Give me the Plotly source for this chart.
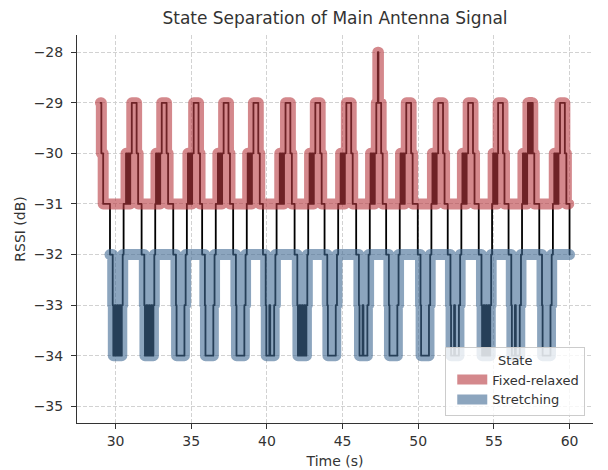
import plotly.graph_objects as go
import pandas as pd

# ---- data: RSSI samples (s, dB), split by labelled state ----
relaxed_time = [
    29.00, 29.06, 29.18,
    30.53, 30.69, 30.77, 30.83, 30.91, 30.97, 31.07, 31.39, 31.49,
    32.62, 32.67, 32.75, 32.81, 32.89, 32.95, 33.05, 33.37, 33.47,
    34.71, 34.78, 34.86, 34.92, 35.00, 35.06, 35.16, 35.48, 35.58,
    36.62, 36.76, 36.84, 36.90, 36.98, 37.04, 37.14, 37.46, 37.56,
    38.67, 38.73, 38.81, 38.87, 38.95, 39.01, 39.11, 39.43, 39.53,
    40.64, 40.85, 40.93, 40.99, 41.07, 41.13, 41.23, 41.55, 41.65,
    42.73, 42.82, 42.90, 42.96, 43.04, 43.10, 43.20, 43.52, 43.62,
    44.71, 44.87, 44.95, 45.01, 45.09, 45.15, 45.25, 45.57, 45.67,
    46.80, 46.85, 46.93, 46.99, 47.07, 47.13, 47.23, 47.33, 47.37, 47.55, 47.65,
    48.78, 48.83, 48.91, 48.97, 49.05, 49.11, 49.21, 49.53, 49.63,
    50.87, 50.94, 51.02, 51.08, 51.16, 51.22, 51.32, 51.64, 51.74,
    52.85, 52.92, 53.00, 53.06, 53.14, 53.20, 53.30, 53.62, 53.72,
    54.88, 54.95, 55.03, 55.09, 55.17, 55.23, 55.28, 55.60, 55.70,
    56.86, 56.92, 57.00, 57.06, 57.14, 57.20, 57.25, 57.33, 57.38, 57.46, 57.51, 57.57, 57.67,
    58.90, 58.99, 59.07, 59.13, 59.21, 59.27, 59.37, 59.69, 59.79, 59.95,
]
relaxed_rssi = [
    -29, -30, -31,
    -31, -30, -31, -30, -31, -30, -29, -30, -31,
    -31, -30, -31, -30, -31, -30, -29, -30, -31,
    -31, -30, -31, -30, -31, -30, -29, -30, -31,
    -31, -30, -31, -30, -31, -30, -29, -30, -31,
    -31, -30, -31, -30, -31, -30, -29, -30, -31,
    -31, -30, -31, -30, -31, -30, -29, -30, -31,
    -31, -30, -31, -30, -31, -30, -29, -30, -31,
    -31, -30, -31, -30, -31, -30, -29, -30, -31,
    -31, -30, -31, -30, -31, -30, -29, -28, -29, -30, -31,
    -31, -30, -31, -30, -31, -30, -29, -30, -31,
    -31, -30, -31, -30, -31, -30, -29, -30, -31,
    -31, -30, -31, -30, -31, -30, -29, -30, -31,
    -31, -30, -31, -30, -31, -30, -29, -30, -31,
    -31, -30, -31, -30, -31, -30, -29, -30, -29, -30, -29, -30, -31,
    -31, -30, -31, -30, -31, -30, -29, -30, -31, -31,
]
stretch_time = [
    29.63, 29.81, 29.85, 29.95, 30.01, 30.11, 30.17, 30.27, 30.33, 30.41, 30.47,
    31.72, 31.90, 31.94, 32.04, 32.10, 32.20, 32.26, 32.36, 32.42, 32.50, 32.56,
    33.81, 33.99, 34.03, 34.55, 34.63,
    35.72, 35.90, 35.94, 36.46, 36.54,
    37.77, 37.95, 37.99, 38.51, 38.59,
    39.74, 39.92, 39.96, 40.16, 40.22, 40.48, 40.56,
    41.83, 42.01, 42.05, 42.15, 42.21, 42.31, 42.37, 42.47, 42.53, 42.61, 42.67,
    43.81, 43.99, 44.03, 44.55, 44.63,
    45.90, 46.08, 46.12, 46.32, 46.38, 46.64, 46.72,
    47.88, 48.06, 48.10, 48.62, 48.70,
    49.97, 50.15, 50.19, 50.71, 50.79,
    51.95, 52.13, 52.17, 52.37, 52.43, 52.69, 52.77,
    54.00, 54.18, 54.22, 54.32, 54.38, 54.48, 54.54, 54.64, 54.70, 54.76, 54.82,
    55.97, 56.15, 56.19, 56.39, 56.45, 56.71, 56.79,
    58.00, 58.18, 58.22, 58.74, 58.82,
    60.00,
]
stretch_rssi = [
    -32, -33, -34, -33, -34, -33, -34, -33, -34, -33, -32,
    -32, -33, -34, -33, -34, -33, -34, -33, -34, -33, -32,
    -32, -33, -34, -33, -32,
    -32, -33, -34, -33, -32,
    -32, -33, -34, -33, -32,
    -32, -33, -34, -33, -34, -33, -32,
    -32, -33, -34, -33, -34, -33, -34, -33, -34, -33, -32,
    -32, -33, -34, -33, -32,
    -32, -33, -34, -33, -34, -33, -32,
    -32, -33, -34, -33, -32,
    -32, -33, -34, -33, -32,
    -32, -33, -34, -33, -34, -33, -32,
    -32, -33, -34, -33, -34, -33, -34, -33, -34, -33, -32,
    -32, -33, -34, -33, -34, -33, -32,
    -32, -33, -34, -33, -32,
    -32,
]
state_names = ["Fixed-relaxed", "Stretching"]
x_tick_values = [30, 35, 40, 45, 50, 55, 60]
y_tick_values = [-35, -34, -33, -32, -31, -30, -29, -28]
y_tick_labels = ["−35", "−34", "−33", "−32", "−31", "−30", "−29", "−28"]

df = pd.concat([
    pd.DataFrame({"t": relaxed_time, "rssi": relaxed_rssi, "state": state_names[0]}),
    pd.DataFrame({"t": stretch_time, "rssi": stretch_rssi, "state": state_names[1]}),
]).sort_values("t")

FONT = "DejaVu Sans"
TXT = "#333333"
colors = {state_names[0]: "rgba(183,57,63,0.6)", state_names[1]: "rgba(63,105,147,0.6)"}

fig = go.Figure()
fig.add_trace(go.Scatter(x=df["t"], y=df["rssi"], mode="lines", line=dict(color="black", width=1.8, shape="hv"),
                         showlegend=False, hoverinfo="skip"))
for s in state_names:
    sub = df[df["state"] == s]
    fig.add_trace(go.Scatter(x=sub["t"], y=sub["rssi"], mode="lines", name=s,
                             line=dict(color=colors[s], width=11, shape="hv")))

axis_common = dict(showline=True, linecolor=TXT, linewidth=1, ticks="outside", ticklen=5, tickcolor=TXT,
                   showgrid=True, gridcolor="#d2d2d2", gridwidth=0.8, griddash="4px,2px", zeroline=False,
                   tickfont=dict(family=FONT, size=14, color=TXT), mirror=False, automargin=False)

fig.update_layout(
    width=608, height=470,
    margin=dict(l=77, r=15, t=35, b=47),
    paper_bgcolor="white", plot_bgcolor="white",
    font=dict(family=FONT, color=TXT),
    title=dict(text="State Separation of Main Antenna Signal", x=0.5, xref="paper", xanchor="center",
               y=0.962, yref="container", yanchor="middle", font=dict(family=FONT, size=17, color=TXT)),
    xaxis=dict(range=[27.45, 61.55], tickvals=x_tick_values,
               title=dict(text="Time (s)", font=dict(family=FONT, size=14, color=TXT), standoff=8),
               **axis_common),
    yaxis=dict(range=[-35.33, -27.66], tickvals=y_tick_values, ticktext=y_tick_labels, ticklabelstandoff=5,
               title=dict(text="RSSI (dB)", font=dict(family=FONT, size=14, color=TXT), standoff=4),
               **axis_common),
    legend=dict(x=0.985, y=0.019, xanchor="right", yanchor="bottom", indentation=6,
                bgcolor="rgba(255,255,255,0.8)", bordercolor="#cccccc", borderwidth=1,
                font=dict(family=FONT, size=13, color=TXT),
                title=dict(text="State", side="top center", font=dict(family=FONT, size=13, color=TXT))),
)

post = """
document.body.style.margin='0';
document.querySelectorAll('.scatterlayer .js-line').forEach(function(p){
  p.style.strokeLinejoin='round'; p.style.strokeLinecap='round';
});
"""
fig.write_html("out.html", post_script=post, config={"displayModeBar": False})
